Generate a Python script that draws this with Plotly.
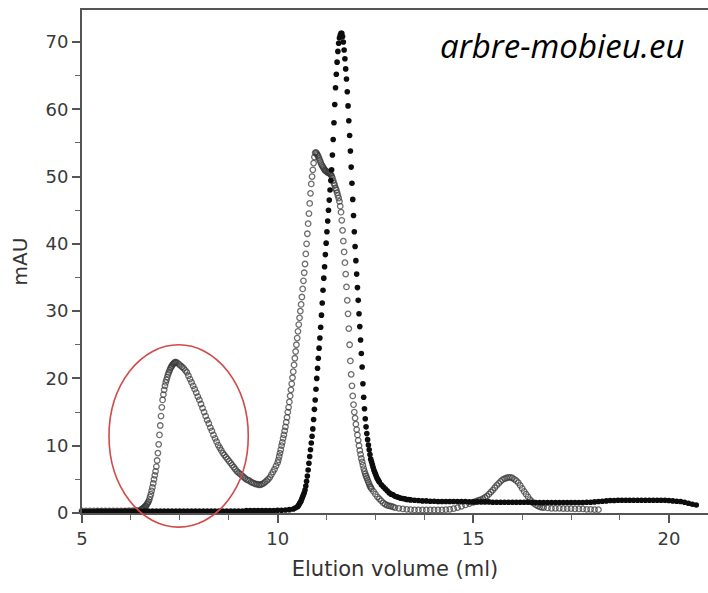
import plotly.graph_objects as go

# ---------------- data ----------------
# Series with the sharp peak (filled black dots)
black_x = [
    5.0, 5.1, 5.2, 5.3, 5.4, 5.5, 5.6, 5.7, 5.8, 5.9,
    6.0, 6.1, 6.2, 6.3, 6.4, 6.5, 6.6, 6.7, 6.8, 6.9,
    7.0, 7.1, 7.2, 7.3, 7.4, 7.5, 7.6, 7.7, 7.8, 7.9,
    8.0, 8.1, 8.2, 8.3, 8.4, 8.5, 8.6, 8.7, 8.8, 8.9,
    9.0, 9.1, 9.2, 9.3, 9.4, 9.5, 9.6, 9.7, 9.8, 9.9,
    10.0, 10.1, 10.2, 10.3, 10.4, 10.45,
    10.50, 10.52, 10.54, 10.56, 10.58, 10.60, 10.62, 10.64, 10.66, 10.68,
    10.70, 10.72, 10.74, 10.76, 10.78, 10.80, 10.82, 10.84, 10.86, 10.88,
    10.90, 10.92, 10.94, 10.96, 10.98, 11.00, 11.02, 11.04, 11.06, 11.08,
    11.10, 11.12, 11.14, 11.16, 11.18, 11.20, 11.22, 11.24, 11.26, 11.28,
    11.30, 11.32, 11.34, 11.36, 11.38, 11.40, 11.42, 11.44, 11.46, 11.48,
    11.50, 11.52, 11.54, 11.56, 11.58, 11.60, 11.62, 11.64, 11.66, 11.68,
    11.70, 11.72, 11.74, 11.76, 11.78, 11.80, 11.82, 11.84, 11.86, 11.88,
    11.90, 11.92, 11.94, 11.96, 11.98, 12.00, 12.02, 12.04, 12.06, 12.08,
    12.10, 12.12, 12.14, 12.16, 12.18, 12.20, 12.22, 12.24, 12.26, 12.28,
    12.30, 12.32, 12.34, 12.36, 12.38, 12.40, 12.42, 12.44, 12.46, 12.48,
    12.50, 12.52, 12.54, 12.56, 12.58, 12.60,
    12.65, 12.70, 12.75, 12.80, 12.85, 12.90, 12.95, 13.00, 13.05, 13.10,
    13.15, 13.20, 13.25, 13.30, 13.35, 13.40,
    13.5, 13.6, 13.7, 13.8, 13.9, 14.0, 14.1, 14.2, 14.3, 14.4,
    14.5, 14.6, 14.7, 14.8, 14.9, 15.0, 15.1, 15.2, 15.3, 15.4,
    15.5, 15.6, 15.7, 15.8, 15.9, 16.0, 16.1, 16.2, 16.3, 16.4,
    16.5, 16.6, 16.7, 16.8, 16.9, 17.0, 17.1, 17.2, 17.3, 17.4,
    17.5, 17.6, 17.7, 17.8, 17.9, 18.0, 18.1, 18.2, 18.3, 18.4,
    18.5, 18.6, 18.7, 18.8, 18.9, 19.0, 19.1, 19.2, 19.3, 19.4,
    19.5, 19.6, 19.7, 19.8, 19.9, 20.0, 20.1, 20.2, 20.3, 20.4,
    20.5, 20.6, 20.7,
]
black_y = [
    0.2, 0.2, 0.2, 0.2, 0.25, 0.25, 0.25, 0.25, 0.25, 0.25,
    0.25, 0.3, 0.3, 0.3, 0.3, 0.3, 0.3, 0.3, 0.3, 0.3,
    0.3, 0.3, 0.3, 0.3, 0.3, 0.3, 0.3, 0.3, 0.3, 0.3,
    0.3, 0.3, 0.3, 0.3, 0.3, 0.3, 0.3, 0.3, 0.3, 0.3,
    0.3, 0.3, 0.35, 0.35, 0.35, 0.35, 0.35, 0.35, 0.35, 0.35,
    0.4, 0.4, 0.45, 0.5, 0.6, 0.75,
    0.9, 1.0, 1.2, 1.4, 1.6, 1.8, 2.1, 2.4, 2.7, 3.0,
    3.4, 4.0, 4.7, 5.5, 6.4, 7.4, 8.4, 9.4, 10.4, 11.4,
    12.5, 13.9, 15.4, 16.8, 18.4, 20.0, 21.5, 23.0, 24.5, 26.0,
    27.6, 29.4, 31.2, 33.1, 34.9, 36.6, 38.4, 40.1, 41.8, 43.4,
    45.0, 46.5, 48.0, 49.4, 51.0, 53.2, 55.5, 58.0, 60.7, 63.2,
    65.2, 67.0, 68.6, 69.8, 70.6, 71.0, 71.3, 71.3, 70.8, 70.0,
    68.8, 67.5, 66.0, 64.5, 62.6, 60.5, 58.3, 56.1, 53.8, 51.4,
    49.0, 46.6, 44.2, 41.8, 39.6, 37.5, 35.5, 33.5, 31.6, 29.6,
    27.7, 25.7, 23.7, 21.7, 19.2, 17.2, 15.5, 14.0, 12.8, 11.8,
    10.9, 10.1, 9.4, 8.7, 8.0, 7.6, 7.2, 6.8, 6.4, 6.1,
    5.8, 5.5, 5.2, 5.0, 4.8, 4.6,
    4.2, 3.9, 3.6, 3.3, 3.0, 2.8, 2.7, 2.5, 2.4, 2.3,
    2.2, 2.15, 2.1, 2.0, 2.0, 1.95,
    1.9, 1.85, 1.8, 1.8, 1.75, 1.75, 1.7, 1.7, 1.7, 1.7,
    1.7, 1.7, 1.7, 1.7, 1.65, 1.65, 1.65, 1.65, 1.65, 1.65,
    1.6, 1.6, 1.6, 1.6, 1.6, 1.6, 1.6, 1.6, 1.6, 1.6,
    1.55, 1.55, 1.55, 1.55, 1.55, 1.55, 1.55, 1.55, 1.55, 1.55,
    1.55, 1.55, 1.55, 1.55, 1.6, 1.6, 1.65, 1.7, 1.75, 1.8,
    1.85, 1.85, 1.9, 1.9, 1.9, 1.9, 1.9, 1.9, 1.9, 1.9,
    1.9, 1.9, 1.9, 1.9, 1.9, 1.85, 1.8, 1.75, 1.7, 1.6,
    1.45, 1.3, 1.2,
]

# Series with the aggregate peak (open grey circles)
hollow_x = [
    5.0, 5.1, 5.2, 5.3, 5.4, 5.5, 5.6, 5.7, 5.8, 5.9,
    6.0, 6.1, 6.2, 6.3, 6.4, 6.5,
    6.52, 6.54, 6.56, 6.58,
    6.60, 6.62, 6.64, 6.66, 6.68, 6.70, 6.72, 6.74, 6.76, 6.78,
    6.80, 6.82, 6.84, 6.86, 6.88, 6.90, 6.92, 6.94, 6.96, 6.98,
    7.00, 7.02, 7.04, 7.06, 7.08, 7.10, 7.12, 7.14, 7.16, 7.18,
    7.20, 7.22, 7.24, 7.26, 7.28, 7.30, 7.32, 7.34, 7.36, 7.38,
    7.40,
    7.44, 7.48, 7.52, 7.56, 7.60, 7.64, 7.68, 7.72, 7.76, 7.80,
    7.84, 7.88, 7.92, 7.96, 8.00, 8.04, 8.08, 8.12, 8.16, 8.20,
    8.24, 8.28, 8.32, 8.36, 8.40, 8.44, 8.48, 8.52, 8.56, 8.60,
    8.64, 8.68, 8.72, 8.76, 8.80, 8.84, 8.88, 8.92, 8.96, 9.00,
    9.04, 9.08, 9.12, 9.16, 9.20, 9.24, 9.28, 9.32, 9.36, 9.40,
    9.44, 9.48, 9.52, 9.56, 9.60, 9.64, 9.68, 9.72, 9.76, 9.80,
    9.84, 9.88, 9.92, 9.96,
    10.00, 10.02, 10.04, 10.06, 10.08, 10.10, 10.12, 10.14, 10.16, 10.18,
    10.20, 10.22, 10.24, 10.26, 10.28, 10.30, 10.32, 10.34, 10.36, 10.38,
    10.40, 10.42, 10.44, 10.46, 10.48, 10.50, 10.52, 10.54, 10.56, 10.58,
    10.60, 10.62, 10.64, 10.66, 10.68, 10.70, 10.72, 10.74, 10.76, 10.78,
    10.80, 10.82, 10.84, 10.86, 10.88, 10.90, 10.92, 10.94, 10.96, 10.98,
    11.00, 11.02, 11.04, 11.06, 11.08, 11.10, 11.12, 11.14, 11.16, 11.18,
    11.20, 11.22, 11.24, 11.26, 11.28, 11.30, 11.32, 11.34, 11.36, 11.38,
    11.40, 11.42, 11.44, 11.46, 11.48, 11.50, 11.52, 11.54, 11.56, 11.58,
    11.60, 11.62, 11.64, 11.66, 11.68, 11.70, 11.72, 11.74, 11.76, 11.78,
    11.80, 11.82, 11.84, 11.86, 11.88, 11.90, 11.92, 11.94, 11.96, 11.98,
    12.00, 12.02, 12.04, 12.06, 12.08, 12.10, 12.12, 12.14, 12.16, 12.18,
    12.20, 12.22, 12.24, 12.26, 12.28, 12.30, 12.32, 12.34, 12.36, 12.38,
    12.40,
    12.45, 12.50, 12.55, 12.60, 12.65, 12.70, 12.75, 12.80, 12.85, 12.90,
    12.95, 13.00,
    13.1, 13.2, 13.3, 13.4, 13.5, 13.6, 13.7, 13.8, 13.9, 14.0,
    14.1, 14.2, 14.3, 14.4, 14.5, 14.6, 14.7, 14.8, 14.9,
    15.00, 15.05, 15.10, 15.15, 15.20, 15.25, 15.30, 15.35, 15.40, 15.45,
    15.50, 15.55, 15.60, 15.65, 15.70, 15.75, 15.80, 15.85, 15.90, 15.95,
    16.00, 16.05, 16.10, 16.15, 16.20, 16.25, 16.30, 16.35, 16.40, 16.45,
    16.50, 16.55, 16.60, 16.65, 16.70, 16.75, 16.80,
    16.9, 17.0, 17.1, 17.2, 17.3, 17.4, 17.5, 17.6, 17.7, 17.8,
    17.9, 18.0, 18.1, 18.2,
]
hollow_y = [
    0.3, 0.3, 0.3, 0.3, 0.3, 0.3, 0.3, 0.3, 0.3, 0.3,
    0.3, 0.3, 0.35, 0.35, 0.4, 0.45,
    0.55, 0.6, 0.7, 0.8,
    0.9, 1.0, 1.1, 1.3, 1.5, 1.7, 2.0, 2.4, 2.8, 3.3,
    3.8, 4.4, 5.0, 5.6, 6.2, 6.9, 7.8, 8.9, 10.2, 11.6,
    13.0, 14.4, 15.7, 16.8, 17.6, 18.3, 18.9, 19.4, 19.8, 20.2,
    20.6, 20.9, 21.2, 21.5, 21.7, 21.9, 22.1, 22.2, 22.3, 22.4,
    22.4,
    22.3, 22.1, 21.9, 21.7, 21.5, 21.2, 20.9, 20.4, 19.9, 19.4,
    18.9, 18.4, 17.9, 17.3, 16.8, 16.2, 15.6, 15.0, 14.4, 13.8,
    13.3, 12.7, 12.2, 11.6, 11.1, 10.6, 10.1, 9.7, 9.3, 8.9,
    8.6, 8.3, 8.0, 7.7, 7.4, 7.1, 6.8, 6.5, 6.2, 6.0,
    5.8, 5.6, 5.4, 5.2, 5.0, 4.9, 4.8, 4.6, 4.5, 4.4,
    4.3, 4.3, 4.2, 4.2, 4.3, 4.4, 4.6, 4.8, 5.0, 5.3,
    5.7, 6.1, 6.5, 7.0,
    7.5, 7.9, 8.4, 8.9, 9.4, 10.0, 10.5, 11.1, 11.6, 12.2,
    12.8, 13.5, 14.2, 15.0, 15.7, 16.5, 17.4, 18.3, 19.2, 20.1,
    21.0, 22.0, 23.0, 24.0, 25.0, 26.0, 27.0, 28.0, 29.0, 30.0,
    31.0, 32.1, 33.3, 34.5, 35.7, 37.0, 38.5, 40.0, 41.5, 43.0,
    44.5, 46.0, 47.5, 48.9, 50.0, 51.0, 52.0, 52.9, 53.5, 53.6,
    53.4, 53.2, 53.0, 52.7, 52.4, 52.1, 51.8, 51.6, 51.4, 51.2,
    51.0, 50.9, 50.8, 50.7, 50.6, 50.6, 50.5, 50.4, 50.3, 50.1,
    49.8, 49.4, 49.0, 48.7, 48.3, 48.0, 47.6, 47.2, 46.8, 46.3,
    45.6, 44.7, 43.5, 42.0, 40.4, 38.8, 37.2, 35.5, 33.6, 31.6,
    29.6, 27.4, 25.0, 22.6, 20.6, 18.9, 17.4, 16.1, 15.0, 14.1,
    13.2, 12.4, 11.6, 10.8, 10.0, 9.3, 8.7, 8.1, 7.6, 7.1,
    6.6, 6.2, 5.8, 5.5, 5.2, 4.9, 4.6, 4.3, 4.0, 3.8,
    3.6,
    3.2, 2.8, 2.4, 2.1, 1.8, 1.5, 1.3, 1.15, 1.05, 1.0,
    0.9, 0.8,
    0.7, 0.6, 0.55, 0.5, 0.45, 0.45, 0.45, 0.45, 0.45, 0.45,
    0.45, 0.45, 0.5, 0.55, 0.65, 0.8, 1.0, 1.2, 1.4,
    1.6, 1.7, 1.8, 1.9, 2.0, 2.15, 2.3, 2.5, 2.8, 3.1,
    3.4, 3.75, 4.1, 4.4, 4.7, 4.95, 5.1, 5.2, 5.3, 5.3,
    5.2, 5.0, 4.8, 4.5, 4.1, 3.65, 3.2, 2.8, 2.4, 2.0,
    1.7, 1.45, 1.2, 1.05, 0.9, 0.85, 0.8,
    0.75, 0.7, 0.7, 0.7, 0.65, 0.65, 0.65, 0.6, 0.6, 0.6,
    0.55, 0.55, 0.5, 0.5,
]

x_ticks = [5, 10, 15, 20]
y_ticks = [0, 10, 20, 30, 40, 50, 60, 70]
x_range = [5, 21.0]
y_range = [0, 74.75]

# highlighted region (ellipse) in data units
ell_x = [5.69, 9.25]
ell_y = [-2.1, 25.0]

# ---------------- figure ----------------
fig = go.Figure()

fig.add_trace(go.Scatter(
    x=hollow_x, y=hollow_y, mode="markers", cliponaxis=False,
    marker=dict(symbol="circle-open", size=5.5, color="rgba(55,55,55,0.72)",
                line=dict(width=1.3)),
    showlegend=False, hoverinfo="skip",
))
fig.add_trace(go.Scatter(
    x=black_x, y=black_y, mode="markers", cliponaxis=False,
    marker=dict(symbol="circle", size=5.6, color="#0d0d0d"),
    showlegend=False, hoverinfo="skip",
))


def dom_x(v):
    return (v - x_range[0]) / (x_range[1] - x_range[0])


def dom_y(v):
    return (v - y_range[0]) / (y_range[1] - y_range[0])


fig.add_shape(
    type="circle", xref="x domain", yref="y domain",
    x0=dom_x(ell_x[0]), x1=dom_x(ell_x[1]),
    y0=dom_y(ell_y[0]), y1=dom_y(ell_y[1]),
    line=dict(color="#d24a4a", width=1.6), layer="above",
)

fig.add_annotation(
    text="arbre-mobieu.eu", xref="paper", yref="paper",
    x=0.766, y=0.930, xanchor="center", yanchor="middle", showarrow=False,
    font=dict(family="Open Sans", size=33, color="#000000", style="italic"),
)

axis_font = dict(family="DejaVu Sans", size=18, color="#3a3a3a")

fig.update_layout(
    width=708, height=593,
    margin=dict(l=82, r=0, t=10, b=80, autoexpand=False),
    paper_bgcolor="white", plot_bgcolor="white",
    xaxis=dict(
        range=x_range, tickvals=x_ticks, ticks="outside", ticklen=8,
        tickwidth=1.5, tickcolor="#555555", showline=True, linecolor="#555555",
        linewidth=2, mirror=True, showgrid=False, zeroline=False,
        tickfont=axis_font, automargin=False,
        minor=dict(dtick=1.25, tick0=5, ticks="outside", ticklen=5,
                   tickwidth=1.2, tickcolor="#666666", showgrid=False),
        title=dict(text="Elution volume (ml)", standoff=14,
                   font=dict(family="DejaVu Sans", size=21, color="#333333")),
    ),
    yaxis=dict(
        range=y_range, tickvals=y_ticks, ticks="outside", ticklen=8,
        tickwidth=1.5, tickcolor="#555555", showline=True, linecolor="#555555",
        linewidth=2, showgrid=False, zeroline=False,
        tickfont=axis_font, automargin=False,
        minor=dict(dtick=5, tick0=0, ticks="outside", ticklen=5,
                   tickwidth=1.2, tickcolor="#666666", showgrid=False),
        title=dict(text="mAU", standoff=12,
                   font=dict(family="DejaVu Sans", size=20, color="#333333")),
    ),
)

fig.write_html("out.html")
